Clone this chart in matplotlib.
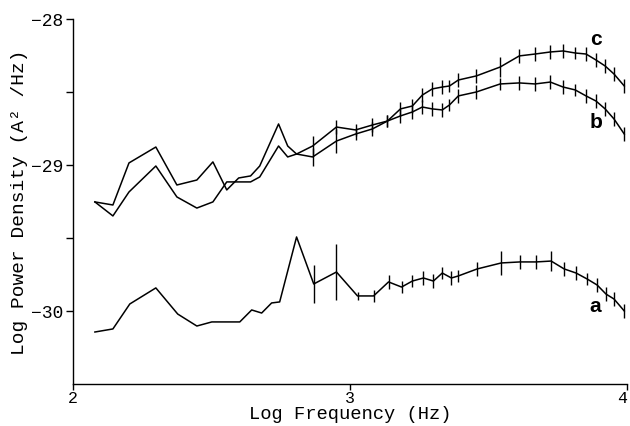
import numpy as np
import matplotlib
matplotlib.use("Agg")
import matplotlib.pyplot as plt
from matplotlib.ticker import FixedLocator

# ---- data ----------------------------------------------------------------- #
x_a = [2.079, 2.144, 2.205, 2.299, 2.378, 2.447, 2.501, 2.602, 2.645, 2.681,
       2.717, 2.746, 2.807, 2.869, 2.951, 3.027, 3.085, 3.139, 3.186, 3.225,
       3.265, 3.301, 3.333, 3.366, 3.391, 3.459, 3.546, 3.614, 3.672, 3.726,
       3.773, 3.816, 3.856, 3.892, 3.924, 3.953, 3.99]
y_a = [-30.144, -30.123, -29.952, -29.842, -30.021, -30.103, -30.075, -30.075,
       -29.993, -30.014, -29.945, -29.938, -29.493, -29.815, -29.733, -29.897,
       -29.897, -29.801, -29.836, -29.795, -29.774, -29.795, -29.740, -29.774,
       -29.760, -29.712, -29.671, -29.664, -29.664, -29.658, -29.712, -29.740,
       -29.781, -29.822, -29.884, -29.918, -30.0]
err_a = [0, 0, 0, 0, 0, 0, 0, 0, 0, 0, 0, 0, 0, 0.13, 0.19, 0.03, 0.04, 0.05,
         0.04, 0.04, 0.05, 0.05, 0.04, 0.05, 0.04, 0.05, 0.08, 0.05, 0.05, 0.07,
         0.05, 0.05, 0.04, 0.05, 0.05, 0.05, 0.05]

x_bc = [2.079, 2.144, 2.202, 2.299, 2.375, 2.447, 2.505, 2.555, 2.598, 2.641,
        2.674, 2.742, 2.775, 2.807, 2.865, 2.951, 3.020, 3.081, 3.135, 3.182,
        3.225, 3.261, 3.297, 3.333, 3.359, 3.391, 3.456, 3.542, 3.611, 3.668,
        3.723, 3.769, 3.813, 3.852, 3.888, 3.921, 3.953, 3.99]
y_b = [-29.253, -29.349, -29.185, -29.007, -29.219, -29.295, -29.253, -29.116,
       -29.116, -29.116, -29.082, -28.870, -28.945, -28.925, -28.870, -28.740,
       -28.760, -28.726, -28.699, -28.664, -28.637, -28.603, -28.616, -28.623,
       -28.589, -28.527, -28.500, -28.445, -28.438, -28.445, -28.432, -28.466,
       -28.486, -28.527, -28.562, -28.616, -28.685, -28.788]
y_c = [-29.253, -29.274, -28.986, -28.877, -29.137, -29.103, -28.979, -29.171,
       -29.089, -29.075, -29.007, -28.719, -28.870, -28.925, -28.945, -28.836,
       -28.788, -28.753, -28.699, -28.616, -28.596, -28.521, -28.479, -28.466,
       -28.459, -28.418, -28.390, -28.329, -28.253, -28.240, -28.226, -28.219,
       -28.233, -28.240, -28.281, -28.322, -28.377, -28.459]
err_b = [0, 0, 0, 0, 0, 0, 0, 0, 0, 0, 0, 0, 0, 0, 0.07, 0.05, 0.04, 0.05,
         0.04, 0.05, 0.05, 0.05, 0.05, 0.05, 0.04, 0.05, 0.05, 0.04, 0.05, 0.05,
         0.05, 0.05, 0.04, 0.05, 0.05, 0.05, 0.05, 0.05]
err_c = [0, 0, 0, 0, 0, 0, 0, 0, 0, 0, 0, 0, 0, 0, 0.06, 0.08, 0.04, 0.05,
         0.04, 0.05, 0.05, 0.05, 0.05, 0.05, 0.04, 0.05, 0.05, 0.07, 0.05, 0.05,
         0.05, 0.05, 0.04, 0.05, 0.05, 0.05, 0.05, 0.05]

curve_labels = [("a", 3.885, -29.96), ("b", 3.888, -28.705), ("c", 3.888, -28.137)]
# =========================================================================== #

mono = "Liberation Mono"

fig = plt.figure(figsize=(6.3, 4.27), dpi=100)
ax = fig.add_axes([0.1159, 0.0984, 0.8794, 0.8548])

for xs, ys, es in [(x_a, y_a, err_a), (x_bc, y_b, err_b), (x_bc, y_c, err_c)]:
    ax.plot(xs, ys, color="black", lw=1.1)
    xs = np.array(xs)
    ys = np.array(ys)
    es = np.array(es)
    m = es > 0
    ax.vlines(xs[m], ys[m] - es[m], ys[m] + es[m], color="black", lw=1.0)

for txt, x, y in curve_labels:
    ax.text(x, y, txt, fontsize=15, fontweight="bold", family="Liberation Sans",
            ha="center", va="center")

ax.set_xlim(2, 4)
ax.set_ylim(-30.5, -28)

ax.set_xticks([2, 3, 4])
ax.set_xticklabels(["2", "3", "4"], fontsize=12, family=mono)
ax.get_xticklabels()[-1].set_ha("right")
ax.set_yticks([-30, -29, -28])
ax.set_yticklabels(["\u221230", "\u221229", "\u221228"], fontsize=13, family=mono)
ax.yaxis.set_minor_locator(FixedLocator([-29.5, -28.5]))
ax.tick_params(direction="out", length=5, width=1.0, pad=2)
ax.tick_params(axis="x", length=4, pad=0)
ax.tick_params(which="minor", length=5, width=1.0)

ax.spines["right"].set_visible(False)
ax.spines["top"].set_visible(False)
ax.spines["left"].set_linewidth(1.0)
ax.spines["bottom"].set_linewidth(1.0)

ax.set_xlabel("Log Frequency (Hz)", fontsize=13.5, family=mono)
ax.xaxis.set_label_coords(0.5, -0.058)
ax.set_ylabel("Log Power Density (A\u00b2 /Hz)", fontsize=14, family=mono, labelpad=2)

fig.savefig("out.png", dpi=100)
